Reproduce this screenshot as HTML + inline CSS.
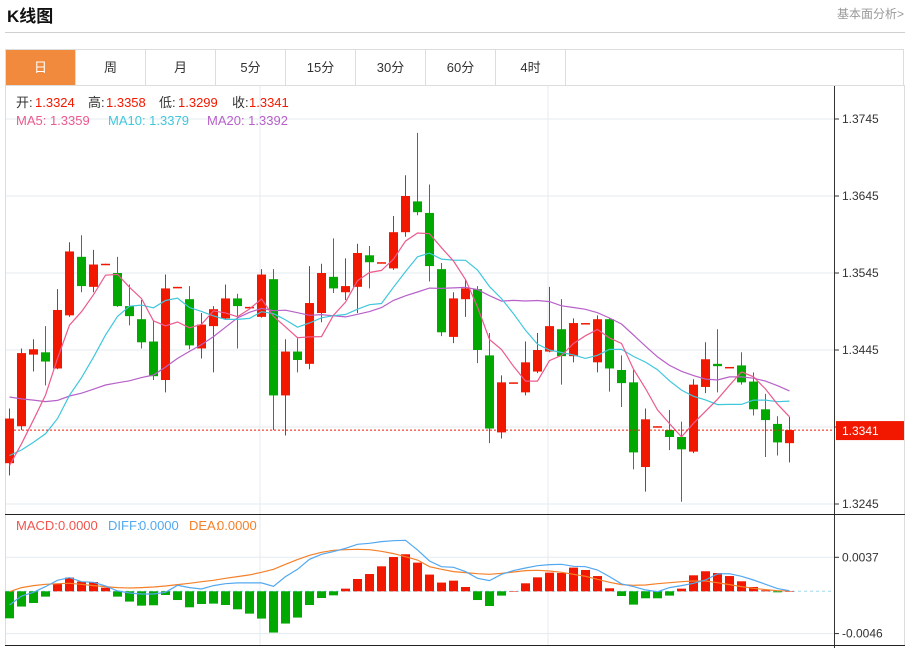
<!DOCTYPE html>
<html><head><meta charset="utf-8"><style>
html,body{margin:0;padding:0;background:#fff;}
body{width:910px;height:648px;overflow:hidden;position:relative;font-family:"Liberation Sans","Noto Sans CJK SC",sans-serif;}
.title{position:absolute;left:7px;top:2px;font-size:17px;font-weight:bold;color:#111;}
.more{position:absolute;right:6px;top:5px;font-size:12px;color:#999;}
.hr{position:absolute;left:5px;width:900px;top:32px;height:1px;background:#d0d0d0;}
.tabs{position:absolute;left:5px;top:49px;width:899px;height:36px;border:1px solid #ddd;border-bottom:none;box-sizing:border-box;}
.tab{position:absolute;top:0;width:70px;height:35px;line-height:35px;text-align:center;font-size:13px;color:#333;border-right:1px solid #ddd;box-sizing:border-box;}
.tab.on{background:#f28a3e;color:#fff;}
svg{position:absolute;left:0;top:0;}
</style></head><body>
<div class="title">K线图</div>
<div class="more">基本面分析&gt;</div>
<div class="hr"></div>
<div class="tabs">
<div class="tab on" style="left:0">日</div>
<div class="tab" style="left:70px">周</div>
<div class="tab" style="left:140px">月</div>
<div class="tab" style="left:210px">5分</div>
<div class="tab" style="left:280px">15分</div>
<div class="tab" style="left:350px">30分</div>
<div class="tab" style="left:420px">60分</div>
<div class="tab" style="left:490px">4时</div>
</div>
<svg id="chart" width="910" height="648"></svg>
<script>
const opens=[1.3298,1.3346,1.3439,1.3442,1.3421,1.3490,1.3566,1.3527,1.3556,1.3545,1.3502,1.3485,1.3456,1.3406,1.3526,1.3511,1.3447,1.3476,1.3486,1.3512,1.3500,1.3488,1.3537,1.3386,1.3443,1.3427,1.3493,1.3540,1.3520,1.3527,1.3568,1.3558,1.3551,1.3598,1.3638,1.3623,1.3550,1.3462,1.3511,1.3524,1.3438,1.3338,1.3402,1.3390,1.3417,1.3443,1.3472,1.3437,1.3479,1.3429,1.3485,1.3419,1.3403,1.3293,1.3345,1.3341,1.3332,1.3313,1.3397,1.3427,1.3422,1.3425,1.3404,1.3368,1.3349,1.3324];
const highs=[1.3369,1.3447,1.3459,1.3476,1.3524,1.3585,1.3594,1.3575,1.3557,1.3566,1.3530,1.3510,1.3484,1.3543,1.3527,1.3528,1.3493,1.3502,1.3530,1.3518,1.3501,1.3550,1.3550,1.3459,1.3460,1.3554,1.3557,1.3590,1.3564,1.3583,1.3580,1.3559,1.3619,1.3672,1.3727,1.3660,1.3558,1.3520,1.3537,1.3528,1.3467,1.3412,1.3403,1.3456,1.3467,1.3527,1.3511,1.3486,1.3480,1.3490,1.3486,1.3438,1.3419,1.3369,1.3346,1.3367,1.3352,1.3407,1.3455,1.3472,1.3423,1.3442,1.3416,1.3388,1.3359,1.3358];
const lows=[1.3282,1.3341,1.3417,1.3399,1.3420,1.3488,1.3520,1.3520,1.3556,1.3501,1.3477,1.3447,1.3406,1.3390,1.3526,1.3446,1.3434,1.3416,1.3484,1.3447,1.3500,1.3487,1.3341,1.3334,1.3416,1.3420,1.3481,1.3519,1.3510,1.3493,1.3525,1.3558,1.3549,1.3592,1.3620,1.3534,1.3463,1.3454,1.3488,1.3428,1.3324,1.3330,1.3402,1.3386,1.3415,1.3442,1.3400,1.3429,1.3479,1.3416,1.3391,1.3371,1.3290,1.3261,1.3345,1.3315,1.3248,1.3311,1.3389,1.3390,1.3422,1.3400,1.3360,1.3306,1.3308,1.3299];
const closes=[1.3356,1.3441,1.3446,1.3430,1.3497,1.3573,1.3528,1.3556,1.3557,1.3502,1.3489,1.3455,1.3411,1.3525,1.3527,1.3451,1.3478,1.3498,1.3512,1.3502,1.3501,1.3543,1.3386,1.3443,1.3432,1.3506,1.3545,1.3525,1.3528,1.3571,1.3559,1.3559,1.3598,1.3645,1.3624,1.3554,1.3468,1.3512,1.3525,1.3445,1.3343,1.3403,1.3403,1.3429,1.3445,1.3476,1.3437,1.3480,1.3480,1.3485,1.3421,1.3402,1.3312,1.3355,1.3346,1.3332,1.3316,1.3400,1.3433,1.3424,1.3423,1.3403,1.3368,1.3354,1.3325,1.3341];
const prevCloses=[1.3490,1.3478,1.3470,1.3465,1.3460,1.3455,1.3450,1.3448,1.3445,1.3439,1.3370,1.3345,1.3320,1.3300,1.3270,1.3300,1.3290,1.3270,1.3259];
const priceTicks=[1.3745,1.3645,1.3545,1.3445,1.3345,1.3245];
const priceTickLabels=["1.3745","1.3645","1.3545","1.3445","","1.3245"];
const lastPrice=1.3341;
// MACD values in units of 0.0001
const macdHist=[-29.4,-16.6,-12.7,-5.8,7.9,14.9,10.6,10.1,4.0,-5.8,-11.2,-15.6,-15.2,-4.0,-9.5,-17.4,-13.8,-13.4,-14.9,-19.6,-24.3,-29.7,-44.9,-35.1,-28.6,-14.9,-7.3,-4.4,2.9,13.4,18.8,27.2,37.3,40.3,31.2,18.2,9.5,11.6,4.7,-9.5,-16.0,-4.7,0.3,8.7,15.2,20.3,19.9,25.8,23.2,16.6,3.3,-5.1,-14.5,-7.6,-7.6,-4.7,2.9,17.4,21.8,19.9,16.6,10.9,4.7,1.1,-1.1,0];
const diffLine=[-14.9,-5.1,-1.1,5.1,12.0,14.9,10.5,9.8,5.8,0.4,-1.8,-2.9,-2.9,-1.1,6.5,4.0,2.5,6.2,8.3,9.1,9.1,9.1,5.4,16.0,23.9,34.8,40.3,43.2,46.8,51.1,52.2,54.1,55.1,55.5,45.0,33.0,26.8,26.1,21.4,14.1,11.6,18.5,22.5,25.4,27.9,29.0,29.4,27.2,26.8,23.2,16.0,8.0,5.1,1.5,-0.4,4.0,6.2,8.7,12.3,18.9,19.2,16.3,12.3,7.6,2.9,0.7];
const deaLine=[-0.4,4.0,6.2,7.6,8.3,8.7,7.6,6.2,5.1,4.0,3.6,4.0,4.7,5.8,7.3,8.7,10.5,12.0,14.1,16.0,17.8,20.7,23.9,29.4,34.5,39.2,42.4,44.6,45.3,45.7,45.3,43.5,41.0,37.7,34.1,26.8,23.9,21.4,20.3,19.2,18.5,19.6,21.0,22.5,22.9,22.1,20.7,18.5,16.3,13.1,9.8,7.3,6.5,6.9,8.3,9.4,10.5,11.2,11.2,9.4,7.3,5.1,3.3,1.8,0.7,0.4];
const macdTicks=[37,-46];
const macdTickLabels=["0.0037","-0.0046"];

const NS='http://www.w3.org/2000/svg';
const svg=document.getElementById('chart');
const RED='#f21800',GREEN='#00a800';
function xAt(i){return 9+12*i;}
function yP(p){return 119+(1.3745-p)*7700;}
function yM(v){return 591.3-v*0.919;}
function mk(tag,attrs,parent){const e=document.createElementNS(NS,tag);for(const k in attrs)e.setAttribute(k,attrs[k]);(parent||svg).appendChild(e);return e;}
function txt(x,y,s,fill,size,anchor){const t=mk('text',{x:x,y:y,fill:fill,'font-size':size||12,'font-family':'"Liberation Sans","Noto Sans CJK SC",sans-serif','text-anchor':anchor||'start'});t.textContent=s;return t;}

let e;
e=mk('rect',{x:5.5,y:85.5,width:899,height:560,fill:'none',stroke:'#ddd'});


priceTicks.forEach(function(p,k){
  e=mk('line',{x1:6,x2:834,y1:yP(p),y2:yP(p),stroke:'#e3ebf1'});
  
  
  mk('line',{x1:834,x2:839,y1:yP(p),y2:yP(p),stroke:'#333'});
  if(priceTickLabels[k]){e=txt(842,yP(p)+4,priceTickLabels[k],'#333',12);
  
  }
});
macdTicks.forEach(function(v,k){
  e=mk('line',{x1:6,x2:834,y1:yM(v),y2:yM(v),stroke:'#e3ebf1'});
  
  
  mk('line',{x1:834,x2:839,y1:yM(v),y2:yM(v),stroke:'#333'});
  e=txt(842,yM(v)+4,macdTickLabels[k],'#333',12);
  
  
});
[260,548].forEach(function(x){
  e=mk('line',{x1:x,x2:x,y1:86,y2:645,stroke:'#e3ebf1'});
  
  
});
e=mk('line',{x1:6,x2:832,y1:yM(0),y2:yM(0),stroke:'#9fd8ef','stroke-dasharray':'3,3'});


e=mk('line',{x1:834.5,x2:834.5,y1:86,y2:648,stroke:'#333'});


e=mk('line',{x1:5,x2:905,y1:514.5,y2:514.5,stroke:'#222'});


e=mk('line',{x1:5,x2:905,y1:645.5,y2:645.5,stroke:'#222'});



for(let i=0;i<opens.length;i++){
  const up=closes[i]>=opens[i];const c=up?RED:GREEN;const x=xAt(i);
  const g=mk('g',{});
  
  
  mk('line',{x1:x+0.5,x2:x+0.5,y1:yP(highs[i]),y2:yP(lows[i]),stroke:c},g);
  const t=yP(Math.max(opens[i],closes[i])),b=yP(Math.min(opens[i],closes[i]));
  mk('rect',{x:x-4,y:t,width:9,height:Math.max(1.5,b-t),fill:c},g);
}
const all=prevCloses.concat(closes);
function ma(n){const out=[];for(let i=0;i<closes.length;i++){let s=0;const j=i+prevCloses.length;for(let k=j-n+1;k<=j;k++)s+=all[k];out.push(s/n);}return out;}
const maColors={5:'#ec5a8e',10:'#3fc7dc',20:'#b760c9'};
[20,10,5].forEach(function(n){
  const v=ma(n);
  e=mk('polyline',{points:v.map(function(p,i){return xAt(i)+0.5+','+yP(p).toFixed(1);}).join(' '),fill:'none',stroke:maColors[n],'stroke-width':1.2});
  
  
});
e=mk('line',{x1:6,x2:834,y1:yP(lastPrice),y2:yP(lastPrice),stroke:RED,'stroke-dasharray':'2,2'});


e=mk('rect',{x:836,y:yP(lastPrice)-9,width:68,height:19,fill:RED});


e=txt(842,yP(lastPrice)+5,lastPrice.toFixed(4),'#fff',12);



for(let i=0;i<macdHist.length;i++){
  const v=macdHist[i];const y0=yM(0),y1=yM(v);
  e=mk('rect',{x:xAt(i)-4,y:Math.min(y0,y1),width:9,height:Math.max(0.5,Math.abs(y1-y0)),fill:v>=0?RED:GREEN});
  
  
}
e=mk('polyline',{points:deaLine.map(function(v,i){return xAt(i)+0.5+','+yM(v).toFixed(1);}).join(' '),fill:'none',stroke:'#f5802a','stroke-width':1.2});


e=mk('polyline',{points:diffLine.map(function(v,i){return xAt(i)+0.5+','+yM(v).toFixed(1);}).join(' '),fill:'none',stroke:'#52a8f0','stroke-width':1.2});



// header legends (positioned segments)
function seg(x,y,s,fill,name){const t=txt(x,y,s,fill,13);

}
seg(16,107,'开:','#333','open-label');seg(35,107,'1.3324',RED,'open-value');
seg(88,107,'高:','#333','high-label');seg(106,107,'1.3358',RED,'high-value');
seg(159,107,'低:','#333','low-label');seg(178,107,'1.3299',RED,'low-value');
seg(232,107,'收:','#333','close-label');seg(249,107,'1.3341',RED,'close-value');
seg(16,125,'MA5: 1.3359','#ec5a8e','ma5-legend');
seg(108,125,'MA10: 1.3379','#3fc7dc','ma10-legend');
seg(207,125,'MA20: 1.3392','#b760c9','ma20-legend');
seg(16,530,'MACD:','#f0544c','macd-label');seg(58,530,'0.0000','#f0544c','macd-value');
seg(108,530,'DIFF:','#52a8f0','diff-label');seg(139,530,'0.0000','#52a8f0','diff-value');
seg(189,530,'DEA:','#f5802a','dea-label');seg(217,530,'0.0000','#f5802a','dea-value');
</script>
</body></html>
